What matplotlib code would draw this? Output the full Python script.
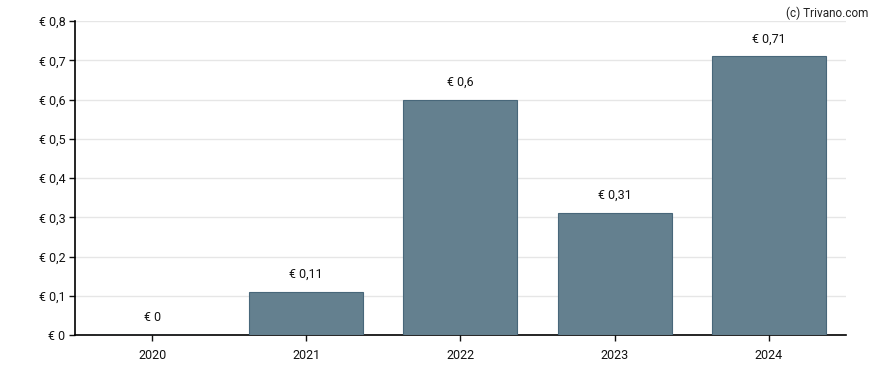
import matplotlib
matplotlib.use("Agg")
import matplotlib.pyplot as plt

# dividend per year
years = ["2020", "2021", "2022", "2023", "2024"]
values = [0, 0.11, 0.6, 0.31, 0.71]
value_labels = ["€ 0", "€ 0,11", "€ 0,6", "€ 0,31", "€ 0,71"]
y_ticks = [0, 0.1, 0.2, 0.3, 0.4, 0.5, 0.6, 0.7, 0.8]
y_tick_labels = ["€ 0", "€ 0,1", "€ 0,2", "€ 0,3", "€ 0,4", "€ 0,5", "€ 0,6", "€ 0,7", "€ 0,8"]

plt.rcParams['font.family'] = ['Roboto', 'DejaVu Sans']

fig = plt.figure(figsize=(8.88, 3.70), dpi=100)
ax = fig.add_axes([0.0845, 0.0946, 0.868, 0.8484])

x = range(len(years))
ax.bar(x, values, width=0.74, color="#64808f", edgecolor="#48677a", linewidth=0.8, zorder=3)

for i, (v, lab) in enumerate(zip(values, value_labels)):
    ax.annotate(lab, (i, v), xytext=(0, 8), textcoords="offset points",
                ha="center", va="bottom", fontsize=9, color="#111111")

ax.set_xlim(-0.5, len(years) - 0.5)
ax.set_ylim(0, 0.8)
ax.set_xticks(list(x))
ax.set_xticklabels(years)
ax.set_yticks(y_ticks)
ax.set_yticklabels(y_tick_labels)
ax.tick_params(axis="both", labelsize=9, length=4, width=1, colors="#111111")
ax.tick_params(axis="x", pad=6)
ax.tick_params(axis="y", pad=3)

ax.grid(axis="y", color="#e6e6e6", linewidth=1, zorder=0)
for s in ["top", "right"]:
    ax.spines[s].set_visible(False)
for s in ["left", "bottom"]:
    ax.spines[s].set_color("#000000")
    ax.spines[s].set_linewidth(1.2)

fig.text(0.978, 0.982, "(c) Trivano.com", ha="right", va="top", fontsize=8.5, color="#222222")

fig.savefig("out.png", dpi=100)
